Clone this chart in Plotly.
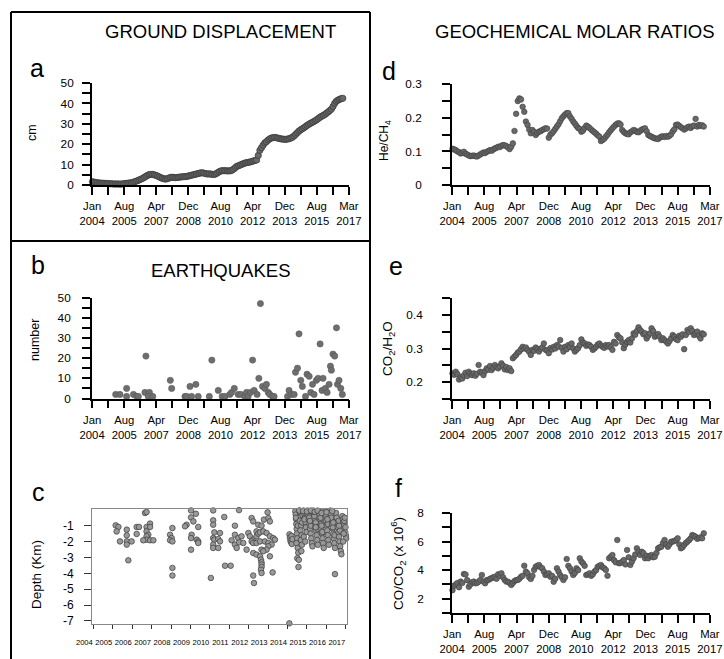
import plotly.graph_objects as go

# ---------------- DATA ----------------
# monthly sampled series start Jan 2004
disp_cm = [1.6,1.4,1.2,1.1,1.0,0.9,0.9,0.8,0.8,0.7,0.7,0.6,
           0.6,0.5,0.5,0.5,0.5,0.4,0.5,0.6,0.7,0.8,0.9,1.0,
           1.1,1.3,1.6,1.9,2.2,2.6,2.9,3.3,3.8,4.3,4.8,5.1,
           5.2,5.2,5.0,4.7,4.4,4.0,3.6,3.3,3.0,2.9,3.1,3.4,
           3.7,3.8,3.7,3.6,3.7,3.8,3.9,4.0,4.1,4.1,4.2,4.4,
           4.6,4.8,5.0,5.2,5.4,5.6,5.8,6.0,5.9,5.7,5.5,5.4,
           5.5,5.3,5.2,5.2,5.5,6.0,6.5,6.9,7.0,7.0,7.0,6.9,
           6.9,7.0,7.3,7.9,8.6,9.2,9.5,9.8,10.2,10.5,10.8,11.0,
           11.1,11.3,11.5,11.8,12.0,12.3,14.5,17.0,18.3,19.5,20.6,21.2,
           22.0,22.6,23.0,23.2,23.3,23.2,23.0,22.8,22.6,22.5,22.4,22.4,
           22.5,22.7,23.0,23.4,24.0,24.8,25.6,26.4,27.0,27.5,28.0,28.6,
           29.2,29.7,30.2,30.6,31.0,31.5,32.0,32.6,33.2,33.7,34.1,34.6,
           35.2,35.8,36.5,37.2,38.5,40.0,41.0,41.6,42.0,42.3,42.5]

eq_time = [2005.21,2005.43,2005.77,2005.77,2006.12,2006.29,2006.37,2006.76,2006.71,2006.94,2006.88,2007.11,
           2008.01,2008.08,2008.76,2008.85,2009.02,2009.10,2009.32,2009.44,
           2010.01,2010.14,2010.47,2010.67,2010.81,2011.06,2011.15,2011.29,2011.49,2011.63,2011.83,2011.92,
           2012.00,2012.12,2012.23,2012.31,2012.46,2012.55,2012.63,2012.74,2012.86,2012.94,2013.03,2013.11,
           2013.25,2013.33,2014.02,2014.10,2014.22,2014.36,2014.43,2014.53,2014.61,2014.70,2014.78,2014.94,
           2015.02,2015.13,2015.21,2015.30,2015.38,2015.50,2015.59,2015.69,2015.79,2015.84,2015.96,2016.05,
           2016.15,2016.22,2016.27,2016.35,2016.44,2016.53,2016.58,2016.66,2016.75,2016.83]
eq_count = [2,2,5,1,2,1,1,21,3,3,1,1,
            9,5,1,1,6,1,7,1,
            1,19,4,1,1,2,3,5,2,2,1,3,
            1,3,19,4,2,10,47,6,5,7,3,2,
            1,1,1,4,2,2,13,15,32,9,6,1,
            12,11,3,7,2,9,10,27,4,10,5,3,
            7,16,14,22,21,35,7,9,5,2]

depth_time = [2005.15,2005.29,2005.20,2005.72,2005.72,2005.37,2005.72,2005.72,2005.97,2006.23,2006.35,2006.23,2005.80,
              2006.66,2006.74,2006.92,2006.74,2006.92,2006.74,2006.83,2006.74,2006.74,2006.57,2006.92,2007.09,
              2008.07,2007.95,2008.03,2007.95,2008.07,2008.07,2008.07,
              2009.03,2009.03,2009.15,2009.28,2008.80,2008.72,2009.40,2009.06,2009.03,2009.32,2009.40,2009.40,2009.03,2010.05,
              2010.17,2010.17,2010.17,2010.23,2010.52,2010.17,2010.23,2010.43,2010.52,2010.17,2010.17,2010.43,2010.74,2010.78,2011.07,
              2011.50,2011.29,2011.29,2011.12,2011.46,2011.63,2011.29,2011.51,2011.72,2011.89,2011.38,
              2012.15,2012.23,2012.49,2012.40,2012.66,2012.78,2012.97,2013.01,2013.09,2011.98,2012.06,2012.23,2012.40,2012.49,
              2012.58,2012.75,2012.92,2013.09,2013.26,2013.35,2012.15,2012.23,2012.40,2012.58,2012.83,2013.01,2013.18,2013.01,
              2012.92,2012.23,2012.40,2012.66,2012.75,2012.58,2012.63,2012.66,2012.66,2012.66,2012.63,2012.66,2013.09,2013.23,
              2012.23,2012.27,
              2014.09,
              2014.10,2014.12,2014.15,2014.18,2014.20,2014.22,2014.25,
              2014.40,2014.42,2014.44,2014.45,2014.47,2014.48,2014.50,2014.46,2014.52,2014.55,2014.50,2014.56,2014.58,2014.43,2014.53,
              2014.62,2014.65,2014.68,2014.63,2014.70,2014.66,2014.72,2014.69,2014.74,2014.71,2014.64,2014.75,2014.78,
              2014.82,2014.85,2014.88,2014.90,2014.93,2014.95,2014.98,2014.84,2014.91,2014.97,2014.87,
              2015.02,2015.05,2015.08,2015.10,2015.13,2015.16,2015.19,2015.22,2015.25,2015.28,2015.04,2015.12,2015.20,
              2015.32,2015.35,2015.38,2015.41,2015.44,2015.47,2015.50,2015.53,2015.56,2015.34,2015.45,2015.55,
              2015.62,2015.65,2015.68,2015.71,2015.74,2015.77,2015.80,2015.83,2015.86,2015.70,2015.79,
              2015.92,2015.95,2015.98,2016.01,2016.04,2016.07,2016.10,2016.13,2015.96,2016.08,
              2016.20,2016.23,2016.26,2016.29,2016.32,2016.35,2016.38,2016.41,2016.44,2016.25,2016.33,2016.42,
              2016.50,2016.53,2016.56,2016.59,2016.62,2016.65,2016.68,2016.71,2016.74,2016.77,2016.44,2016.63,2016.70,
              2016.82,2016.85,2016.88,2016.91,2016.94,2016.97,2017.00,2017.02,2016.86,2016.92,2016.98,2016.89,
              2014.60,2014.80,2015.00,2015.20,2015.40,2015.55,2015.75,2016.00,2016.30,
              2015.15,2015.45,2015.75,2016.05,2016.35,2016.65,2016.95]
depth_km = [-0.98,-1.08,-1.36,-1.25,-1.61,-1.99,-1.99,-2.19,-1.99,-1.08,-1.08,-1.52,-3.18,
            -0.20,-0.14,-0.87,-1.08,-1.08,-1.36,-1.57,-1.67,-1.88,-1.92,-1.92,-1.92,
            -1.15,-1.57,-1.78,-1.92,-1.99,-3.66,-4.14,
            -0.04,-0.48,-0.73,-0.25,-0.94,-1.04,-1.08,-1.57,-1.78,-1.88,-1.99,-2.09,-2.51,-4.29,
            -0.04,-0.66,-0.94,-1.42,-1.46,-1.78,-1.88,-1.84,-1.99,-2.19,-2.40,-2.40,-0.45,-3.52,-3.52,
            -0.02,-1.00,-1.57,-1.92,-1.78,-1.67,-2.19,-2.05,-2.09,-2.51,-2.40,
            -0.52,-0.73,-0.94,-1.36,-1.00,-0.62,-0.16,-0.52,-0.73,-1.46,-1.67,-1.88,-1.67,-1.50,
            -1.42,-1.36,-1.46,-1.67,-1.78,-1.88,-1.99,-2.09,-2.09,-1.99,-1.99,-2.09,-2.19,-2.30,
            -2.51,-2.72,-2.82,-2.51,-2.61,-2.93,-3.14,-3.31,-3.45,-3.60,-3.77,-3.98,-2.93,-3.94,
            -4.14,-4.61,
            -7.15,
            -1.55,-1.75,-1.95,-2.05,-1.65,-2.15,-1.85,
            -0.10,-0.30,-0.60,-0.90,-1.20,-1.50,-1.80,-2.10,-2.40,-2.70,-3.05,-3.60,-3.15,-0.50,-1.00,
            -0.05,-0.20,-0.40,-0.70,-1.00,-1.30,-1.60,-1.90,-2.20,-2.60,-0.15,-0.80,-0.35,
            -0.05,-0.10,-0.30,-0.50,-0.80,-1.10,-1.40,-1.70,-2.00,-0.20,-0.60,
            -0.05,-0.15,-0.35,-0.60,-0.90,-1.20,-1.50,-1.80,-2.10,-2.30,-0.10,-0.50,-1.00,
            -0.05,-0.20,-0.40,-0.70,-1.00,-1.30,-1.60,-1.90,-2.20,-0.10,-0.80,-1.20,
            -0.10,-0.30,-0.60,-0.90,-1.20,-1.50,-1.80,-2.10,-2.40,-0.50,-1.40,
            -0.10,-0.40,-0.70,-1.00,-1.30,-1.60,-1.90,-2.20,-0.30,-0.90,
            -0.05,-0.30,-0.60,-0.90,-1.20,-1.50,-1.80,-2.10,-2.40,-0.50,-1.10,-1.60,
            -0.20,-0.50,-0.80,-1.10,-1.40,-1.70,-2.00,-2.30,-2.60,-2.80,-4.05,-0.70,-1.30,
            -0.40,-0.60,-0.80,-1.00,-1.20,-1.40,-1.60,-1.80,-2.00,-0.70,-1.10,-1.50,
            -0.05,-0.08,-0.10,-0.05,-0.12,-0.05,-0.20,-0.15,-0.08,
            -0.70,-1.10,-1.00,-0.60,-0.80,-1.00,-0.50]

he_ch4 = [.108,.106,.104,.100,.098,.094,.096,.099,.093,.091,.088,.086,
          .087,.088,.086,.085,.088,.091,.094,.097,.095,.099,.101,.104,
          .102,.106,.109,.111,.114,.113,.117,.119,.118,.116,.112,.107,
          .114,.124,.161,.212,.250,.258,.255,.233,.218,.189,.179,.165,
          .154,.164,.158,.149,.155,.159,.160,.164,.166,.169,.168,.141,
          .150,.154,.160,.167,.174,.181,.190,.199,.205,.210,.214,.214,
          .204,.197,.189,.183,.176,.170,.167,.159,.162,.170,.177,.174,
          .170,.165,.161,.157,.153,.148,.144,.131,.134,.138,.144,.150,
          .157,.163,.169,.174,.179,.183,.184,.180,.164,.158,.154,.152,
          .151,.157,.160,.164,.162,.158,.157,.161,.165,.167,.169,.160,
          .149,.146,.144,.141,.139,.138,.137,.141,.144,.145,.143,.146,
          .144,.147,.151,.160,.166,.179,.180,.176,.172,.169,.165,.168,
          .172,.174,.170,.175,.177,.197,.174,.179,.176,.178,.174]

co2_h2o = [.226,.222,.231,.224,.208,.215,.211,.220,.228,.218,.231,.225,
           .221,.226,.219,.225,.251,.231,.228,.221,.233,.241,.237,.248,
           .236,.243,.251,.244,.241,.247,.256,.249,.238,.245,.236,.241,
           .233,.271,.276,.281,.288,.291,.298,.305,.300,.303,.296,.290,
           .281,.296,.293,.303,.298,.291,.299,.303,.315,.296,.294,.286,
           .301,.297,.305,.300,.310,.306,.325,.302,.291,.305,.298,.310,
           .305,.315,.300,.291,.296,.301,.310,.327,.318,.315,.308,.312,
           .310,.305,.296,.300,.305,.312,.315,.309,.305,.302,.310,.306,
           .310,.304,.296,.320,.315,.340,.333,.330,.318,.301,.312,.320,
           .325,.318,.330,.345,.341,.352,.363,.355,.350,.342,.345,.330,
           .338,.345,.360,.352,.335,.340,.343,.335,.325,.330,.325,.320,
           .315,.322,.330,.340,.335,.328,.325,.338,.335,.342,.298,.340,
           .355,.349,.360,.352,.340,.345,.350,.338,.330,.345,.342]

co_co2 = [2.6,2.9,3.0,3.1,2.8,3.2,3.1,3.73,3.7,3.3,2.84,3.0,
          3.15,3.2,3.08,3.1,3.19,3.3,3.66,3.2,3.08,3.3,3.31,3.4,
          3.43,3.5,3.54,3.4,3.71,3.6,3.78,3.5,3.31,3.2,3.19,3.1,
          2.96,3.1,3.24,3.3,3.31,3.4,3.54,3.6,4.31,3.9,3.78,3.5,
          3.38,3.6,4.01,4.24,4.3,4.36,4.2,4.13,3.9,3.66,3.7,3.78,
          3.54,3.6,3.19,3.4,4.13,3.9,3.66,3.5,3.31,3.5,4.78,4.3,
          4.13,3.9,3.66,3.8,4.13,4.0,4.83,4.6,4.48,4.3,3.66,3.7,
          3.78,3.6,3.71,3.9,4.0,4.24,4.3,4.36,4.2,4.13,4.01,3.61,
          4.83,4.94,5.06,4.7,4.55,6.11,4.48,4.5,4.59,4.7,4.4,5.41,
          4.9,4.36,4.6,4.83,5.1,5.53,5.3,5.06,5.29,5.2,4.83,5.0,
          4.83,5.0,5.06,4.9,4.94,5.2,5.53,5.6,5.64,5.9,6.11,5.8,
          5.64,5.8,5.99,6.0,6.04,6.1,6.23,5.8,5.53,5.6,5.76,5.9,
          5.99,6.1,6.23,6.46,6.4,6.34,6.2,6.23,6.3,6.23,6.58]

date_tick_labels = ["Jan<br>2004", "Aug<br>2005", "Apr<br>2007", "Dec<br>2008", "Aug<br>2010",
                    "Apr<br>2012", "Dec<br>2013", "Aug<br>2015", "Mar<br>2017"]
year_labels = [str(y) for y in range(2004, 2018)]

# ---------------- HELPERS ----------------
W, H = 724, 659
FONT = "Liberation Sans, Arial, sans-serif"


def monthly(n):
    return [2004.02 + i / 12.0 for i in range(n)]


def fx(p):
    return p / W


def fy(p):
    return 1 - p / H


# 17 evenly spaced ticks from Jan 2004 to Mar 2017, label on every other one
all_ticks = [2004 + k * (158 / 16) / 12 for k in range(17)]
major_ticks = all_ticks[0::2]
minor_ticks = all_ticks[1::2]
X_RANGE = [2003.995, 2017.172]

fig = go.Figure()

mk_dense = dict(size=6.3, color="#686868", line=dict(width=0.7, color="#363636"))
mk_geo = dict(size=5.6, color="#686868", line=dict(width=0.6, color="#404040"))

fig.add_trace(go.Scatter(x=monthly(len(disp_cm)), y=disp_cm, mode="markers", marker=mk_dense,
                         xaxis="x", yaxis="y", cliponaxis=False))
fig.add_trace(go.Scatter(x=eq_time, y=eq_count, mode="markers",
                         marker=dict(size=6.3, color="#6e6e6e", line=dict(width=0.5, color="#555555")),
                         xaxis="x2", yaxis="y2", cliponaxis=False))
fig.add_trace(go.Scatter(x=depth_time, y=depth_km, mode="markers",
                         marker=dict(size=5.6, color="#999999", line=dict(width=0.7, color="#3a3a3a")),
                         xaxis="x3", yaxis="y3", cliponaxis=False))
fig.add_trace(go.Scatter(x=monthly(len(he_ch4)), y=he_ch4, mode="markers", marker=mk_geo,
                         xaxis="x4", yaxis="y4", cliponaxis=False))
fig.add_trace(go.Scatter(x=monthly(len(co2_h2o)), y=co2_h2o, mode="markers", marker=mk_geo,
                         xaxis="x5", yaxis="y5", cliponaxis=False))
fig.add_trace(go.Scatter(x=monthly(len(co_co2)), y=co_co2, mode="markers", marker=mk_geo,
                         xaxis="x6", yaxis="y6", cliponaxis=False))

TICK_W = 1.6


def date_xaxis(x0, x1, anchor):
    return dict(domain=[fx(x0), fx(x1)], anchor=anchor, range=X_RANGE, tickmode="array",
                tickvals=major_ticks, ticktext=date_tick_labels, ticks="outside", ticklen=8,
                tickwidth=TICK_W, tickcolor="black", tickangle=0,
                minor=dict(tickmode="array", tickvals=minor_ticks, ticks="outside", ticklen=8,
                           tickwidth=TICK_W, tickcolor="black", showgrid=False),
                showline=True, linewidth=1.8, linecolor="black", automargin=False,
                showgrid=False, zeroline=False, tickfont=dict(size=11.3, family=FONT, color="black"),
                ticklabelstandoff=2)


def val_yaxis(y_bot, y_top, anchor, rng, major, labels, minor, standoff):
    return dict(domain=[fy(y_bot), fy(y_top)], anchor=anchor, range=rng, tickmode="array",
                tickvals=major, ticktext=labels, ticks="outside", ticklen=8, tickwidth=TICK_W,
                tickcolor="black",
                minor=dict(tickmode="array", tickvals=minor, ticks="outside", ticklen=8,
                           tickwidth=TICK_W, tickcolor="black", showgrid=False),
                showline=True, linewidth=1.8, linecolor="black", showgrid=False, zeroline=False,
                automargin=False,
                tickfont=dict(size=11.8, family=FONT, color="black"), ticklabelstandoff=standoff)


fig.update_layout(
    width=W, height=H, margin=dict(l=0, r=0, t=0, b=0, autoexpand=False),
    paper_bgcolor="white", plot_bgcolor="white", showlegend=False,
    font=dict(family=FONT, color="black"),
    xaxis=date_xaxis(92, 349, "y"),
    yaxis=val_yaxis(185, 83, "x", [0, 50], [0, 10, 20, 30, 40, 50], ["0", "10", "20", "30", "40", "50"],
                    [5, 15, 25, 35, 45], 6),
    xaxis2=date_xaxis(92, 349, "y2"),
    yaxis2=val_yaxis(398.5, 297.5, "x2", [0, 50], [0, 10, 20, 30, 40, 50], ["0", "10", "20", "30", "40", "50"],
                     [5, 15, 25, 35, 45], 9),
    xaxis3=dict(domain=[fx(92), fx(347)], anchor="y3", range=[2003.93, 2017.06], tickmode="array",
                tickvals=list(range(2004, 2018)), ticktext=year_labels, ticks="outside", ticklen=4,
                tickwidth=1, tickcolor="#333333", showline=True, mirror=True, linewidth=1,
                linecolor="#888888", showgrid=False, zeroline=False, tickangle=0, automargin=False,
                tickfont=dict(size=7.6, family=FONT, color="black"), ticklabelshift=-9,
                ticklabelstandoff=7),
    yaxis3=dict(domain=[fy(624), fy(509)], anchor="x3", range=[-7.19, 0.05], tickmode="array",
                tickvals=[-1, -2, -3, -4, -5, -6, -7], ticktext=["-1", "-2", "-3", "-4", "-5", "-6", "-7"],
                ticks="outside", ticklen=7, tickwidth=1, tickcolor="#333333", showline=True, mirror=True,
                linewidth=1, linecolor="#888888", showgrid=False, zeroline=False, automargin=False,
                tickfont=dict(size=12, family=FONT, color="black"), ticklabelstandoff=8),
    xaxis4=date_xaxis(452, 710, "y4"),
    yaxis4=val_yaxis(185, 84.3, "x4", [0, 0.3], [0, .1, .2, .3], ["0", "0.1", "0.2", "0.3"],
                     [.05, .15, .25], 18),
    xaxis5=date_xaxis(452, 710, "y5"),
    yaxis5=val_yaxis(399, 298, "x5", [0.15, 0.45], [.2, .3, .4], ["0.2", "0.3", "0.4"],
                     [.15, .25, .35, .45], 17),
    xaxis6=date_xaxis(452, 710, "y6"),
    yaxis6=val_yaxis(613, 513, "x6", [1, 8], [2, 4, 6, 8], ["2", "4", "6", "8"],
                     [1, 3, 5, 7], 16),
)

# frame lines
LW = 2
shapes = [
    dict(x0=fx(11), x1=fx(370), y0=fy(12), y1=fy(12)),
    dict(x0=fx(11), x1=fx(370), y0=fy(241), y1=fy(241)),
    dict(x0=fx(11), x1=fx(11), y0=fy(12), y1=fy(659)),
    dict(x0=fx(370), x1=fx(370), y0=fy(12), y1=fy(659)),
]
for s in shapes:
    s.update(type="line", xref="paper", yref="paper", line=dict(color="black", width=LW))
fig.update_layout(shapes=shapes)

ann = []


def add_text(txt, x, y, size, angle=0):
    ann.append(dict(text=txt, x=fx(x), y=fy(y), xref="paper", yref="paper", showarrow=False,
                    xanchor="center", yanchor="middle", textangle=angle,
                    font=dict(size=size, family=FONT, color="black")))


add_text("GROUND DISPLACEMENT", 220, 32, 18.5)
add_text("EARTHQUAKES", 220, 270, 18.5)
add_text("GEOCHEMICAL MOLAR RATIOS", 575, 32, 18.5)
add_text("a", 37, 68, 25)
add_text("b", 38, 265, 25)
add_text("c", 38, 492, 25)
add_text("d", 389, 71, 25)
add_text("e", 396, 266, 25)
add_text("f", 399, 488, 25)
add_text("cm", 32, 133, 12.5, -90)
add_text("number", 35, 340, 12.5, -90)
add_text("Depth (Km)", 36, 575, 13.5, -90)
add_text("He/CH<sub>4</sub>", 385, 140, 12, -90)
add_text("CO<sub>2</sub>/H<sub>2</sub>O", 388, 349, 13.5, -90)
add_text("CO/CO<sub>2</sub> (x 10<sup>6</sup>)", 398, 564, 13.5, -90)
fig.update_layout(annotations=ann)

fig.write_html("out.html", config={"displayModeBar": False},
               post_script="document.body.style.margin='0px';document.body.style.padding='0px';"
                           "document.body.style.overflow='hidden';")
